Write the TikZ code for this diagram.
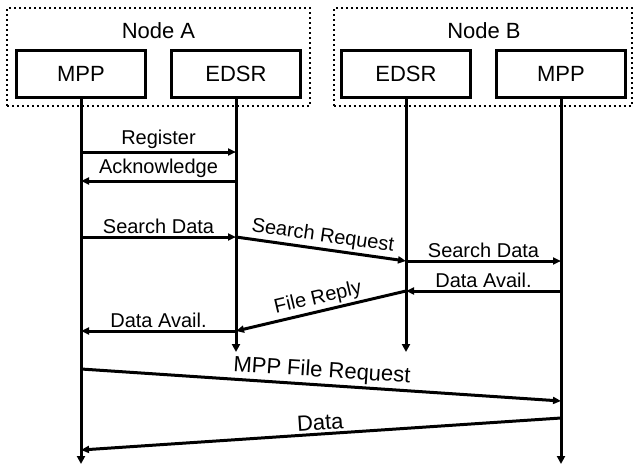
\documentclass[tikz,border=0pt]{standalone}
\usepackage{fontspec}
\setmainfont{Liberation Sans}
\usetikzlibrary{arrows.meta}

\tikzset{every path/.style={line width=3pt}}
\tikzset{
    grp/.style={draw,line width=2pt,dash pattern=on 2pt off 3pt,minimum width=#1,minimum height=98pt,inner sep=0pt},
    ttl/.style={inner sep=0pt,font=\fontsize{22}{26}\selectfont},
    proc/.style={draw,fill=white,minimum width=129pt,minimum height=47pt,inner sep=0pt,font=\fontsize{22}{26}\selectfont},
    life/.style={-{Triangle[length=8pt,width=8pt]}},
    msg/.style={-{Triangle[length=8pt,width=7pt]}},
    lbl/.style={above,inner sep=2pt,font=\fontsize{20}{24}\selectfont},
    biglbl/.style={above,inner sep=2pt,font=\fontsize{22}{26}\selectfont}
}

\begin{document}
\begin{tikzpicture}[x=1pt,y=-1pt]
    \useasboundingbox (0,0) rectangle (633,466);
    % the two hosts
    \node[grp=303pt] (hostA) at (158.5,57) {};
    \node[grp=298pt] (hostB) at (482.5,57) {};
    \node[ttl] (ttlA) at (158.5,31) {Node A};
    \node[ttl] (ttlB) at (484,31) {Node B};
    \node[proc] (mppA)  at (81,73.5)  {MPP};
    \node[proc] (edsrA) at (236,73.5) {EDSR};
    \node[proc] (edsrB) at (406,73.5) {EDSR};
    \node[proc] (mppB)  at (561,73.5) {MPP};
    % lifelines
    \coordinate (endmppA)  at (81,464);
    \coordinate (endedsrA) at (236,352);
    \coordinate (endedsrB) at (406,352);
    \coordinate (endmppB)  at (561,464);
    \path[life] (mppA) edge (endmppA);
    \path[life] (edsrA) edge (endedsrA);
    \path[life] (edsrB) edge (endedsrB);
    \path[life] (mppB) edge (endmppB);
    % message end points
    \coordinate (m1) at (81,152);   \coordinate (e1) at (236,152);
    \coordinate (m2) at (81,181);   \coordinate (e2) at (236,181);
    \coordinate (m3) at (81,237);   \coordinate (e3) at (236,237);
    \coordinate (f4) at (406,261);  \coordinate (p5) at (561,261);
    \coordinate (f6) at (406,291);  \coordinate (p6) at (561,291);
    \coordinate (e7) at (236,331);  \coordinate (m8) at (81,331);
    \coordinate (m9) at (81,369);   \coordinate (p9) at (561,401);
    \coordinate (p10) at (561,418); \coordinate (m10) at (81,450);
    % messages
    \path[msg] (m1) edge node[lbl] {Register} (e1);
    \path[msg] (e2) edge node[lbl] {Acknowledge} (m2);
    \path[msg] (m3) edge node[lbl] {Search Data} (e3);
    \path[msg] (e3) edge node[lbl,sloped] {Search Request} (f4);
    \path[msg] (f4) edge node[lbl] {Search Data} (p5);
    \path[msg] (p6) edge node[lbl] {Data Avail.} (f6);
    \path[msg] (f6) edge node[lbl,sloped] {File Reply} (e7);
    \path[msg] (e7) edge node[lbl] {Data Avail.} (m8);
    \path[msg] (m9) edge node[biglbl,sloped] {MPP File Request} (p9);
    \path[msg] (p10) edge node[biglbl,sloped] {Data} (m10);
\end{tikzpicture}
\end{document}
